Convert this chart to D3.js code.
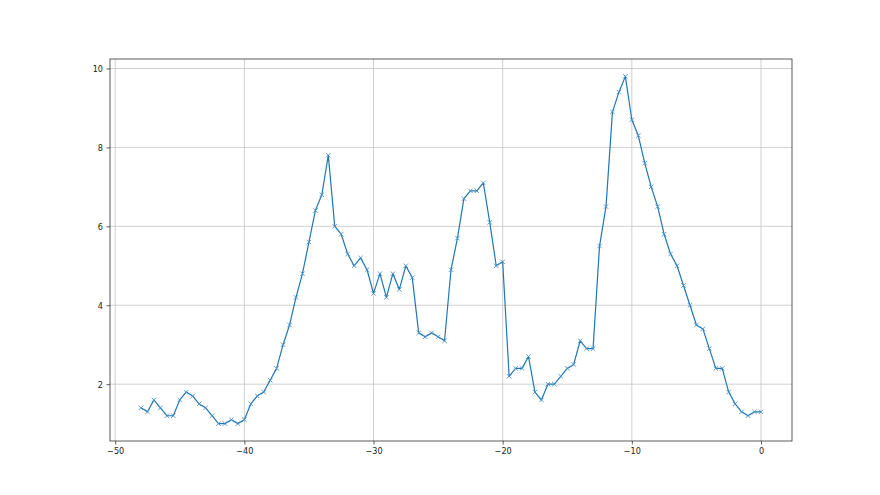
<!DOCTYPE html>
<html>
<head>
<meta charset="utf-8">
<script src="https://cdn.jsdelivr.net/npm/d3@7"></script>
<style>
  body { margin: 0; background: #fff; }
  svg text { font-family: "Liberation Sans Narrow", "DejaVu Sans Condensed", sans-serif; font-size: 9px; fill: #222; }
</style>
</head>
<body>
<svg id="chart" width="880" height="495"></svg>
<script>
// x positions, every half step from -48 to 0
const xValues = [
  -48, -47.5, -47, -46.5, -46, -45.5, -45, -44.5, -44, -43.5,
  -43, -42.5, -42, -41.5, -41, -40.5, -40, -39.5, -39, -38.5,
  -38, -37.5, -37, -36.5, -36, -35.5, -35, -34.5, -34, -33.5,
  -33, -32.5, -32, -31.5, -31, -30.5, -30, -29.5, -29, -28.5,
  -28, -27.5, -27, -26.5, -26, -25.5, -25, -24.5, -24, -23.5,
  -23, -22.5, -22, -21.5, -21, -20.5, -20, -19.5, -19, -18.5,
  -18, -17.5, -17, -16.5, -16, -15.5, -15, -14.5, -14, -13.5,
  -13, -12.5, -12, -11.5, -11, -10.5, -10, -9.5, -9, -8.5,
  -8, -7.5, -7, -6.5, -6, -5.5, -5, -4.5, -4, -3.5,
  -3, -2.5, -2, -1.5, -1, -0.5, 0
];
const yValues = [
  1.4, 1.3, 1.6, 1.4, 1.2, 1.2, 1.6, 1.8, 1.7, 1.5,
  1.4, 1.2, 1.0, 1.0, 1.1, 1.0, 1.1, 1.5, 1.7, 1.8,
  2.1, 2.4, 3.0, 3.5, 4.2, 4.8, 5.6, 6.4, 6.8, 7.8,
  6.0, 5.8, 5.3, 5.0, 5.2, 4.9, 4.3, 4.8, 4.2, 4.8,
  4.4, 5.0, 4.7, 3.3, 3.2, 3.3, 3.2, 3.1, 4.9, 5.7,
  6.7, 6.9, 6.9, 7.1, 6.1, 5.0, 5.1, 2.2, 2.4, 2.4,
  2.7, 1.8, 1.6, 2.0, 2.0, 2.2, 2.4, 2.5, 3.1, 2.9,
  2.9, 5.5, 6.5, 8.9, 9.4, 9.8, 8.7, 8.3, 7.6, 7.0,
  6.5, 5.8, 5.3, 5.0, 4.5, 4.0, 3.5, 3.4, 2.9, 2.4,
  2.4, 1.8, 1.5, 1.3, 1.2, 1.3, 1.3
];
const xTicks = [-50, -40, -30, -20, -10, 0];
const yTicks = [2, 4, 6, 8, 10];

const width = 880, height = 495;
const margin = { left: 110, right: 88, top: 59, bottom: 54 };
const svg = d3.select("#chart");

const data = xValues.map((x, i) => ({ x: x, y: yValues[i] }));

// 5% padding like the default autoscale
const xExt = d3.extent(xValues), yExt = d3.extent(yValues);
const xPad = (xExt[1] - xExt[0]) * 0.05, yPad = (yExt[1] - yExt[0]) * 0.05;

const x = d3.scaleLinear()
  .domain([xExt[0] - xPad, xExt[1] + xPad])
  .range([margin.left, width - margin.right]);
const y = d3.scaleLinear()
  .domain([yExt[0] - yPad, yExt[1] + yPad])
  .range([height - margin.bottom, margin.top]);

const fmt = (d) => String(d).replace("-", "\u2212");

// grid
const grid = svg.append("g")
  .attr("stroke", "#c4c4c4")
  .attr("stroke-width", 0.8);
grid.selectAll("line.gx").data(xTicks).enter().append("line")
  .attr("x1", (d) => x(d)).attr("x2", (d) => x(d))
  .attr("y1", margin.top).attr("y2", height - margin.bottom);
grid.selectAll("line.gy").data(yTicks).enter().append("line")
  .attr("y1", (d) => y(d)).attr("y2", (d) => y(d))
  .attr("x1", margin.left).attr("x2", width - margin.right);

// axes
const xAxis = svg.append("g")
  .attr("transform", `translate(0,${height - margin.bottom})`)
  .call(d3.axisBottom(x).tickValues(xTicks).tickFormat(fmt).tickSize(3.5).tickPadding(3.5));
const yAxis = svg.append("g")
  .attr("transform", `translate(${margin.left},0)`)
  .call(d3.axisLeft(y).tickValues(yTicks).tickFormat(fmt).tickSize(3.5).tickPadding(3.5));
[xAxis, yAxis].forEach((a) => {
  a.select(".domain").remove();
  a.selectAll(".tick line").attr("stroke", "#333").attr("stroke-width", 0.8);
  a.selectAll("text")
    .attr("font-family", "'Liberation Sans Narrow', 'DejaVu Sans Condensed', sans-serif")
    .attr("font-size", 9)
    .attr("fill", "#222");
});

// line
svg.append("path")
  .datum(data)
  .attr("fill", "none")
  .attr("stroke", "#1f77b4")
  .attr("stroke-width", 1.2)
  .attr("stroke-linejoin", "round")
  .attr("d", d3.line().x((d) => x(d.x)).y((d) => y(d.y)));

// x markers
const m = 2.2;
svg.append("g")
  .attr("stroke", "#4a90c8")
  .attr("stroke-width", 0.9)
  .selectAll("path")
  .data(data)
  .enter()
  .append("path")
  .attr("d", (d) => {
    const px = x(d.x), py = y(d.y);
    return `M${px - m},${py - m}L${px + m},${py + m}M${px - m},${py + m}L${px + m},${py - m}`;
  });

// frame
svg.append("rect")
  .attr("x", margin.left)
  .attr("y", margin.top)
  .attr("width", width - margin.left - margin.right)
  .attr("height", height - margin.top - margin.bottom)
  .attr("fill", "none")
  .attr("stroke", "#333")
  .attr("stroke-width", 0.8);
</script>
</body>
</html>
